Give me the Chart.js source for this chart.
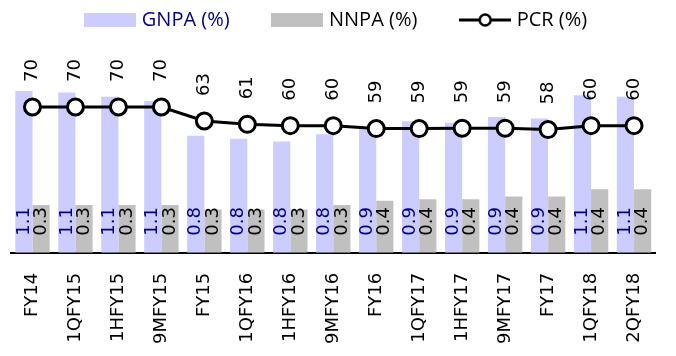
<!DOCTYPE html>
<html>
<head>
<meta charset="utf-8">
<script src="https://cdn.jsdelivr.net/npm/chart.js@4.4.1/dist/chart.umd.min.js"></script>
<style>
  body { margin: 0; background: #fff; }
  #box { width: 676px; height: 356px; }
</style>
</head>
<body>
<div id="box"><canvas id="grafico" width="676" height="356"></canvas></div>
<script>
const categorias = ['FY14', '1QFY15', '1HFY15', '9MFY15', 'FY15', '1QFY16', '1HFY16', '9MFY16',
    'FY16', '1QFY17', '1HFY17', '9MFY17', 'FY17', '1QFY18', '2QFY18'];
const gnpa = [1.12, 1.11, 1.08, 1.05, 0.81, 0.79, 0.77, 0.82, 0.86, 0.91, 0.90, 0.94, 0.93, 1.09, 1.08];
const nnpa = [0.33, 0.33, 0.33, 0.33, 0.30, 0.30, 0.30, 0.33, 0.36, 0.37, 0.37, 0.39, 0.39, 0.44, 0.44];
const pcr = [70.0, 70.0, 70.0, 70.0, 62.8, 61.1, 60.4, 60.4, 58.9, 58.9, 59.1, 59.1, 58.4, 60.4, 60.4];

const corGnpa = '#ccccff';
const corNnpa = '#c0c0c0';

// little pictures for the legend
function caixaLegenda(cor) {
    const c = document.createElement('canvas');
    c.width = 52;
    c.height = 14;
    const g = c.getContext('2d');
    g.fillStyle = cor;
    g.fillRect(0, 0, 52, 14);
    return c;
}
function linhaLegenda() {
    const c = document.createElement('canvas');
    c.width = 52;
    c.height = 18;
    const g = c.getContext('2d');
    g.strokeStyle = '#000';
    g.lineWidth = 3;
    g.beginPath();
    g.moveTo(0, 9);
    g.lineTo(52, 9);
    g.stroke();
    g.beginPath();
    g.arc(26, 9, 5.5, 0, Math.PI * 2);
    g.fillStyle = '#fff';
    g.fill();
    g.lineWidth = 2.5;
    g.stroke();
    return c;
}

// rotated value labels
const rotulos = {
    id: 'rotulos',
    afterDatasetsDraw(chart) {
        const ctx = chart.ctx;
        chart.data.datasets.forEach((ds, i) => {
            const meta = chart.getDatasetMeta(i);
            meta.data.forEach((el, j) => {
                const v = ds.data[j];
                let texto, y;
                if (ds.type === 'line') {
                    texto = String(Math.round(v));
                    y = el.y - 25;
                } else {
                    texto = v.toFixed(1);
                    y = el.base - 17;
                }
                ctx.save();
                ctx.translate(el.x, y);
                ctx.rotate(-Math.PI / 2);
                ctx.font = '18px "DejaVu Sans"';
                ctx.fillStyle = ds.corRotulo;
                ctx.textAlign = 'left';
                ctx.textBaseline = 'middle';
                ctx.fillText(texto, 0, 0);
                ctx.restore();
            });
        });
    }
};

const ctx = document.getElementById('grafico').getContext('2d');
const grafico = new Chart(ctx, {
    type: 'bar',
    data: {
        labels: categorias,
        datasets: [
            {
                type: 'line',
                label: 'PCR (%)',
                data: pcr,
                yAxisID: 'y1',
                borderColor: '#000',
                borderWidth: 3,
                pointRadius: 8,
                pointBorderWidth: 3,
                pointBackgroundColor: '#fff',
                pointBorderColor: '#000',
                corRotulo: '#000',
                order: 0
            },
            {
                label: 'GNPA (%)',
                data: gnpa,
                yAxisID: 'y',
                backgroundColor: corGnpa,
                corRotulo: '#000080',
                order: 1
            },
            {
                label: 'NNPA (%)',
                data: nnpa,
                yAxisID: 'y',
                backgroundColor: corNnpa,
                corRotulo: '#000',
                order: 2
            }
        ]
    },
    options: {
        responsive: false,
        animation: false,
        layout: { padding: { left: 10, right: 10, top: 0, bottom: -8 } },
        datasets: {
            bar: { categoryPercentage: 0.8, barPercentage: 1.0 }
        },
        plugins: {
            tooltip: { enabled: false },
            legend: {
                position: 'top',
                labels: {
                    usePointStyle: true,
                    pointStyleWidth: 43,
                    boxHeight: 14,
                    padding: 10,
                    font: { family: '"Open Sans"', size: 20 },
                    generateLabels: () => [
                        { text: 'GNPA (%)       ', fontColor: '#000080', pointStyle: caixaLegenda(corGnpa), datasetIndex: 1, lineWidth: 0 },
                        { text: 'NNPA (%)       ', fontColor: '#000', pointStyle: caixaLegenda(corNnpa), datasetIndex: 2, lineWidth: 0 },
                        { text: 'PCR (%)', fontColor: '#000', pointStyle: linhaLegenda(), datasetIndex: 0, lineWidth: 0 }
                    ]
                }
            }
        },
        scales: {
            x: {
                grid: { display: false, drawTicks: false },
                border: { display: true, color: '#000', width: 2 },
                ticks: {
                    autoSkip: false,
                    minRotation: 90,
                    maxRotation: 90,
                    padding: 20,
                    color: '#000',
                    font: { family: '"DejaVu Sans"', size: 18 }
                }
            },
            y: { display: false, min: 0, max: 1.473 },
            y1: { display: false, min: -4.9, max: 104.4 }
        }
    },
    plugins: [rotulos]
});
</script>
</body>
</html>
